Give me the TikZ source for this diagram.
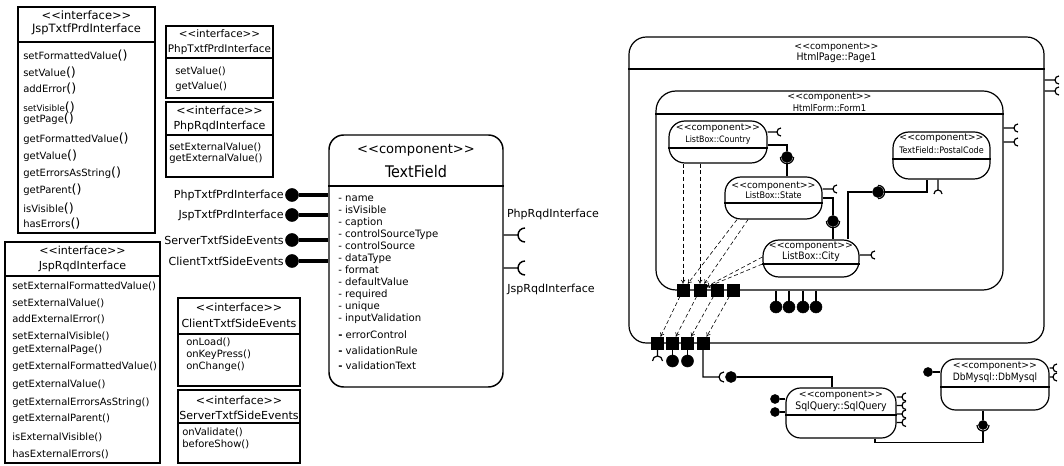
\documentclass[tikz,border=0pt]{standalone}
\usepackage{fontspec}
\setmainfont{DejaVu Sans}[Ligatures=TeXOff]
\newfontfamily\condfont{DejaVu Sans Condensed}[Ligatures=TeXOff]
\usetikzlibrary{positioning}
\usetikzlibrary{arrows.meta}
\newcommand{\pars}{{\fontsize{9.5}{9.5}\selectfont()}}

\begin{document}
\begin{tikzpicture}[x=0.75pt, y=-0.75pt,
        boxsize/.style 2 args={minimum width=#1*0.75pt, minimum height=#2*0.75pt},
        ifbox/.style={draw, rectangle, line width=0.9pt, inner sep=0pt},
        ifhead/.style={align=center, inner sep=0pt, font=\fontsize{8.3}{#1}\selectfont},
        ops/.style={align=left, anchor=north west, inner sep=0pt, font=\fontsize{7.5}{#1}\selectfont},
        comp/.style={draw, rectangle, rounded corners=#1, line width=0.9pt, inner sep=0pt},
        stereo/.style={inner sep=0pt, font=\fontsize{7}{8}\selectfont},
        cname/.style={inner sep=0pt, font=\condfont\fontsize{#1}{#1}\selectfont},
        lbl/.style={inner sep=0pt, font=\fontsize{8.3}{9}\selectfont},
        lolly/.style={circle, fill, draw, inner sep=0pt, minimum size=#1*0.75pt},
        portsq/.style={rectangle, fill, draw, inner sep=0pt, minimum size=9pt},
        dep/.style={-{To[length=3pt, width=3.5pt]}, densely dashed, line width=0.45pt},
        wire/.style={line width=0.9pt}]
        \useasboundingbox (0,0) rectangle (1064,466);

        \node[ifbox, boxsize={137}{226}] (jtp) at (86.5,120) {};
        \draw[line width=0.9pt] (jtp.west |- 0,42) -- (jtp.east |- 0,42);
        \node[ifhead=9.75, font=\fontsize{8.6}{9.75}\selectfont] (jtph) at (86.5,22.5) {<<interface>>\\JspTxtfPrdInterface};
        \node[ops=12.75] (jtpm) at (23,50) {setFormattedValue\pars\\setValue\pars\\[-0.75pt]addError\pars\\[1.5pt]{\fontsize{6.5}{6.5}\selectfont setVisible}\pars\\[-4.5pt]getPage\pars\\[2.25pt]getFormattedValue\pars\\getValue\pars\\getErrorsAsString\pars\\getParent\pars\\[1.5pt]isVisible\pars\\[-1.5pt]hasErrors\pars};

        \node[ifbox, boxsize={107}{72}] (ptp) at (219.5,62) {};
        \draw[line width=0.9pt] (ptp.west |- 0,58) -- (ptp.east |- 0,58);
        \node[ifhead=11.25, font=\fontsize{7.8}{11.25}\selectfont] (ptph) at (219.5,42.5) {<<interface>>\\PhpTxtfPrdInterface};
        \node[ops=11.25] (ptpm) at (175,67) {setValue()\\getValue()};

        \node[ifbox, boxsize={107}{75}] (prq) at (219.5,139.5) {};
        \draw[line width=0.9pt] (prq.west |- 0,135) -- (prq.east |- 0,135);
        \node[ifhead=11.25] (prqh) at (219.5,118.5) {<<interface>>\\PhpRqdInterface};
        \node[ops=8] (prqm) at (169,143) {setExternalValue()\\getExternalValue()};

        \node[ifbox, boxsize={155}{221}] (jrq) at (82.5,352.5) {};
        \draw[line width=0.9pt] (jrq.west |- 0,276) -- (jrq.east |- 0,276);
        \node[ifhead=11.25] (jrqh) at (82.5,258.5) {<<interface>>\\JspRqdInterface};
        \node[ops=12.75] (jrqm) at (12,282) {setExternalFormattedValue()\\setExternalValue()\\[-0.75pt]addExternalError()\\setExternalVisible()\\[-3pt]getExternalPage()\\getExternalFormattedValue()\\[0.75pt]getExternalValue()\\[0.75pt]getExternalErrorsAsString()\\[-0.75pt]getExternalParent()\\[1.5pt]isExternalVisible()\\hasExternalErrors()};

        \node[ifbox, boxsize={122}{88}] (cse) at (239,342) {};
        \draw[line width=0.9pt] (cse.west |- 0,334) -- (cse.east |- 0,334);
        \node[ifhead=12] (cseh) at (239,315) {<<interface>>\\ClientTxtfSideEvents};
        \node[ops=9] (csem) at (186,338) {onLoad()\\onKeyPress()\\onChange()};

        \node[ifbox, boxsize={122}{73}] (sse) at (239,426.5) {};
        \draw[line width=0.9pt] (sse.west |- 0,423) -- (sse.east |- 0,423);
        \node[ifhead=11.25] (sseh) at (239,407.5) {<<interface>>\\ServerTxtfSideEvents};
        \node[ops=9] (ssem) at (182,428) {onValidate()\\beforeShow()};

        \node[draw, rectangle, rounded corners=11pt, line width=1.1pt, inner sep=0pt, boxsize={174}{252}] (tf) at (416,261) {};
        \draw[line width=1.1pt] (tf.west |- 0,186) -- (tf.east |- 0,186);
        \node[inner sep=0pt, font=\fontsize{9.8}{10}\selectfont] (tfst) at (416,150) {<<component>>};
        \node[inner sep=0pt, font=\condfont\fontsize{12}{12}\selectfont] (tfname) at (416,172) {TextField};
        \node[ops=9, font=\fontsize{7.6}{9}\selectfont] (tfattr) at (338,196) {- name\\- isVisible\\- caption\\- controlSourceType\\- controlSource\\- dataType\\- format\\- defaultValue\\- required\\- unique\\- inputValidation\\[3.75pt]\textbf{-} errorControl\\[3pt]\textbf{-} validationRule\\[2.25pt]\textbf{-} validationText};

        \node[lolly=13] (b1) at (292,195) {};
        \node[lolly=13] (b2) at (292,215) {};
        \node[lolly=13] (b3) at (292,240) {};
        \node[lolly=13] (b4) at (292,261) {};
        \node[lbl, left=1pt of b1] (l1) {PhpTxtfPrdInterface};
        \node[lbl, left=1pt of b2] (l2) {JspTxtfPrdInterface};
        \node[lbl, left=1pt of b3] (l3) {ServerTxtfSideEvents};
        \node[lbl, left=1pt of b4] (l4) {ClientTxtfSideEvents};
        \draw[line width=2.6pt] (b1) -- (b1 -| tf.west);
        \draw[line width=2.6pt] (b2) -- (b2 -| tf.west);
        \draw[line width=2.6pt] (b3) -- (b3 -| tf.west);
        \draw[line width=2.6pt] (b4) -- (b4 -| tf.west);

        \coordinate (s1) at (518,235);
        \coordinate (s2) at (518,268);
        \draw[line width=1.1pt] (tf.east |- s1) -- (s1) ++(5.25pt,5.25pt) arc[start angle=90, end angle=270, radius=5.25pt];
        \draw[line width=1.1pt] (tf.east |- s2) -- (s2) ++(5.25pt,5.25pt) arc[start angle=90, end angle=270, radius=5.25pt];
        \node[lbl] (s1l) at (553,214) {PhpRqdInterface};
        \node[lbl] (s2l) at (551,289) {JspRqdInterface};

        \node[comp=13pt, boxsize={415}{306}] (pg) at (836.5,190) {};
        \draw[wire] (pg.west |- 0,69) -- (pg.east |- 0,69);
        \node[stereo] (pgst) at (836.5,47) {<<component>>};
        \node[cname=7.8] (pgname) at (836.5,58) {HtmlPage::Page1};
        \coordinate (ps1) at (1055,80);
        \coordinate (ps2) at (1055,91);
        \draw[wire] (pg.east |- ps1) -- (ps1) ++(3pt,3pt) arc[start angle=90, end angle=270, radius=3pt];
        \draw[wire] (pg.east |- ps2) -- (ps2) ++(3pt,3pt) arc[start angle=90, end angle=270, radius=3pt];

        \node[comp=15pt, boxsize={347}{199}] (fm) at (829.5,190.5) {};
        \draw[wire] (fm.west |- 0,114) -- (fm.east |- 0,114);
        \node[stereo] (fmst) at (829.5,97) {<<component>>};
        \node[cname=7] (fmname) at (829.5,108) {HtmlForm::Form1};
        \coordinate (fs1) at (1014,128);
        \coordinate (fs2) at (1014,142);
        \draw[wire] (fm.east |- fs1) -- (fs1) ++(3pt,3pt) arc[start angle=90, end angle=270, radius=3pt];
        \draw[wire] (fm.east |- fs2) -- (fs2) ++(3pt,3pt) arc[start angle=90, end angle=270, radius=3pt];

        \node[comp=12pt, boxsize={98}{42}] (cty) at (718,142) {};
        \draw[wire] (cty.west |- 0,148) -- (cty.east |- 0,148);
        \node[stereo] (ctyst) at (718,128) {<<component>>};
        \node[cname=6.6] (ctyname) at (718,140) {ListBox::Country};
        \coordinate (cs) at (777,132);
        \draw[wire] (cty.east |- cs) -- (cs) ++(3pt,3pt) arc[start angle=90, end angle=270, radius=3pt];

        \node[comp=12pt, boxsize={97}{42}] (st) at (773.5,198) {};
        \draw[wire] (st.west |- 0,203) -- (st.east |- 0,203);
        \node[stereo] (stst) at (773.5,186) {<<component>>};
        \node[cname=6.8] (stname) at (773.5,195) {ListBox::State};
        \coordinate (ss) at (833,189);
        \draw[wire] (st.east |- ss) -- (ss) ++(3pt,3pt) arc[start angle=90, end angle=270, radius=3pt];

        \node[comp=12pt, boxsize={96}{37}] (ci) at (811,258.5) {};
        \draw[wire] (ci.west |- 0,264) -- (ci.east |- 0,264);
        \node[stereo] (cist) at (811,246) {<<component>>};
        \node[cname=7.7] (ciname) at (811,257) {ListBox::City};
        \coordinate (cis) at (871,255);
        \draw[wire] (ci.east |- cis) -- (cis) ++(3pt,3pt) arc[start angle=90, end angle=270, radius=3pt];

        \node[comp=12pt, boxsize={97}{47}] (pc) at (941.5,155.5) {};
        \draw[wire] (pc.west |- 0,159) -- (pc.east |- 0,159);
        \node[stereo] (pcst) at (941.5,138) {<<component>>};
        \node[cname=6.7] (pcname) at (941.5,150) {TextField::PostalCode};
        \coordinate (pcs) at (938,190);
        \draw[wire] (pc.south -| pcs) -- (pcs) ++(-3pt,-3pt) arc[start angle=180, end angle=0, radius=3pt];

        \node[lolly=11] (bcs) at (787,157) {};
        \draw[wire] (cty.east |- 0,145) -| (bcs);
        \draw[wire] ([xshift=-5pt]bcs.center) arc[start angle=180, end angle=360, radius=5pt];
        \draw[wire] ([yshift=-5pt]bcs.center) -- (bcs |- st.north);

        \node[lolly=11] (bsc) at (833,221) {};
        \draw[wire] (st.east |- 0,198) -| (bsc);
        \draw[wire] ([xshift=-5pt]bsc.center) arc[start angle=180, end angle=360, radius=5pt];
        \draw[wire] ([yshift=-5pt]bsc.center) -- (bsc |- ci.north);

        \node[lolly=11] (bcp) at (878,192) {};
        \draw[wire] (ci.north -| 848,0) |- (bcp);
        \draw[wire] ([yshift=5pt]bcp.center) arc[start angle=90, end angle=-90, radius=5pt];
        \draw[wire] ([xshift=5pt]bcp.center) -| (pc.south -| 927,0);

        \node[portsq] (fq1) at (683,290) {};
        \node[portsq] (fq2) at (700,290) {};
        \node[portsq] (fq3) at (717,290) {};
        \node[portsq] (fq4) at (733,290) {};
        \node[lolly=12] (fl1) at (776,307) {};
        \node[lolly=12] (fl2) at (789,307) {};
        \node[lolly=12] (fl3) at (803,307) {};
        \node[lolly=12] (fl4) at (816,307) {};
        \draw[wire] (fm.south -| fl1) -- (fl1);
        \draw[wire] (fm.south -| fl2) -- (fl2);
        \draw[wire] (fm.south -| fl3) -- (fl3);
        \draw[wire] (fm.south -| fl4) -- (fl4);

        \draw[dep] (cty.south -| fq1) -- (fq1);
        \draw[dep] (cty.south -| fq2) -- (fq2);
        \draw[dep] (st.south -| 737,0) -- (fq1);
        \draw[dep] (st.south -| 748,0) -- (fq2);
        \draw[dep] (ci.west |- 0,257) -- (fq2);
        \draw[dep] (ci.west |- 0,264) -- (fq2);

        \node[portsq] (pq1) at (657.5,343) {};
        \node[portsq] (pq2) at (672.5,343) {};
        \node[portsq] (pq3) at (687.5,343) {};
        \node[portsq] (pq4) at (703,343) {};
        \draw[dep] (fq1) -- (pq1);
        \draw[dep] (fq2) -- (pq2);
        \draw[dep] (fq3) -- (pq3);
        \draw[dep] (fq4) -- (pq4);

        \coordinate (pqs) at (657.5,356);
        \draw[wire] (pq1) -- (pqs) ++(-3.75pt,-3.75pt) arc[start angle=180, end angle=0, radius=3.75pt];
        \node[lolly=12] (pb2) at (672.5,361) {};
        \node[lolly=12] (pb3) at (687.5,361) {};
        \draw[wire] (pq2) -- (pb2);
        \draw[wire] (pq3) -- (pb3);

        \node[comp=11pt, boxsize={110}{50}] (sq) at (841,413) {};
        \draw[wire] (sq.west |- 0,415) -- (sq.east |- 0,415);
        \node[stereo] (sqst) at (841,395) {<<component>>};
        \node[cname=7.8] (sqname) at (841,407) {SqlQuery::SqlQuery};

        \coordinate (sqs) at (719,377);
        \node[lolly=11] (bsq) at (731,377) {};
        \draw[wire] (pq4) |- (sqs) ++(3.75pt,3.75pt) arc[start angle=90, end angle=270, radius=3.75pt];
        \draw[wire] (bsq) -| (sq.north -| 832,0);

        \node[lolly=9] (sqb1) at (775,399) {};
        \node[lolly=9] (sqb2) at (775,412) {};
        \draw[wire] (sqb1) -- (sqb1 -| sq.west);
        \draw[wire] (sqb2) -- (sqb2 -| sq.west);
        \coordinate (q1) at (902,397);
        \coordinate (q2) at (902,405.5);
        \coordinate (q3) at (902,414);
        \coordinate (q4) at (902,422.5);
        \draw[wire] (sq.east |- q1) -- (q1) ++(3pt,3pt) arc[start angle=90, end angle=270, radius=3pt];
        \draw[wire] (sq.east |- q2) -- (q2) ++(3pt,3pt) arc[start angle=90, end angle=270, radius=3pt];
        \draw[wire] (sq.east |- q3) -- (q3) ++(3pt,3pt) arc[start angle=90, end angle=270, radius=3pt];
        \draw[wire] (sq.east |- q4) -- (q4) ++(3pt,3pt) arc[start angle=90, end angle=270, radius=3pt];

        \node[comp=11pt, boxsize={108}{51}] (db) at (995,384.5) {};
        \draw[wire] (db.west |- 0,387) -- (db.east |- 0,387);
        \node[stereo] (dbst) at (995,366) {<<component>>};
        \node[cname=7.6] (dbname) at (995,378) {DbMysql::DbMysql};
        \node[lolly=9] (dbl) at (928,372) {};
        \draw[wire] (dbl) -- (dbl -| db.west);
        \coordinate (d1) at (1053,368);
        \coordinate (d2) at (1053,377);
        \draw[wire] (db.east |- d1) -- (d1) ++(3pt,3pt) arc[start angle=90, end angle=270, radius=3pt];
        \draw[wire] (db.east |- d2) -- (d2) ++(3pt,3pt) arc[start angle=90, end angle=270, radius=3pt];

        \node[lolly=9] (dbb) at (983,425) {};
        \draw[wire] (db.south -| dbb) -- (dbb);
        \draw[wire] ([xshift=-4.5pt]dbb.center) arc[start angle=180, end angle=360, radius=4.5pt];
        \draw[wire] (sq.south -| 875,0) -- ++(0,4) -| ([yshift=-4.5pt]dbb.center);
    \end{tikzpicture}
\end{document}
